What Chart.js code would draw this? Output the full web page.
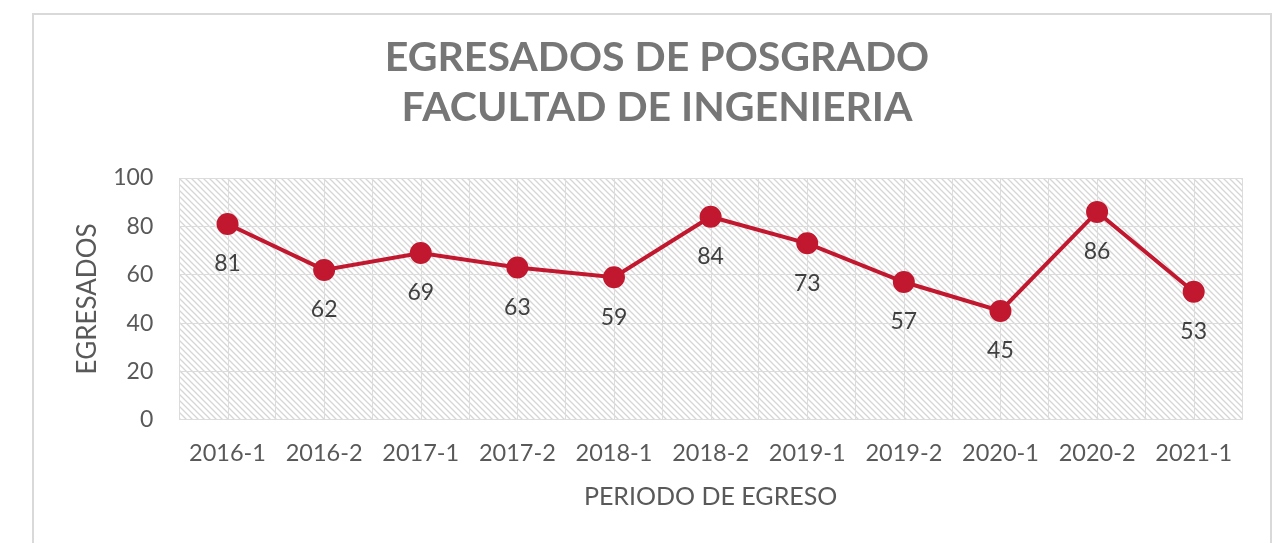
<!DOCTYPE html>
<html>
<head>
<meta charset="utf-8">
<script src="https://cdn.jsdelivr.net/npm/chart.js@4"></script>
<style>
    body { margin: 0; background: #fff; overflow: hidden; }
    .marco {
        position: absolute; left: 32px; top: 13px;
        width: 1236px; height: 560px;
        border: 2px solid #d9d9d9;
    }
</style>
</head>
<body>
<div class="marco">
    <canvas id="grafico" width="1236" height="560"></canvas>
</div>
<script>
const periodos = ['2016-1', '2016-2', '2017-1', '2017-2', '2018-1', '2018-2', '2019-1', '2019-2', '2020-1', '2020-2', '2021-1'];
const egresados = [81, 62, 69, 63, 59, 84, 73, 57, 45, 86, 53];
const titulo = ['EGRESADOS DE POSGRADO', 'FACULTAD DE INGENIERIA'];
const ticksY = [0, 20, 40, 60, 80, 100];

const rojo = '#c1182f';
const gris = '#595959';
const rejilla = '#dcdcdc';

// rayado diagonal del fondo
function rayado() {
    const c = document.createElement('canvas');
    c.width = 6; c.height = 6;
    const g = c.getContext('2d');
    g.strokeStyle = '#d6d6d6';
    g.lineWidth = 1.3;
    g.beginPath();
    g.moveTo(-1, -1); g.lineTo(7, 7);
    g.moveTo(-1, 5); g.lineTo(1, 7);
    g.moveTo(5, -1); g.lineTo(7, 1);
    g.stroke();
    return g.createPattern(c, 'repeat');
}

const fondo = {
    id: 'fondo',
    beforeDraw(chart) {
        const a = chart.chartArea;
        const ctx = chart.ctx;
        ctx.save();
        ctx.fillStyle = rayado();
        ctx.fillRect(a.left, a.top, a.right - a.left, a.bottom - a.top);
        ctx.restore();
    },
    // lineas verticales tambien en el centro de cada periodo
    beforeDatasetsDraw(chart) {
        const a = chart.chartArea;
        const x = chart.scales.x;
        const ctx = chart.ctx;
        ctx.save();
        ctx.strokeStyle = rejilla;
        ctx.lineWidth = 1;
        periodos.forEach((p, i) => {
            const px = Math.round(x.getPixelForValue(i)) + 0.5;
            ctx.beginPath();
            ctx.moveTo(px, a.top);
            ctx.lineTo(px, a.bottom);
            ctx.stroke();
        });
        ctx.restore();
    }
};

// etiquetas de valor debajo de cada punto
const etiquetas = {
    id: 'etiquetas',
    afterDatasetsDraw(chart) {
        const ctx = chart.ctx;
        const meta = chart.getDatasetMeta(0);
        ctx.save();
        ctx.font = '23px Lato';
        ctx.fillStyle = '#404040';
        ctx.textAlign = 'center';
        ctx.textBaseline = 'middle';
        meta.data.forEach((p, i) => {
            ctx.fillText(egresados[i], p.x, p.y + 40);
        });
        ctx.restore();
    }
};

new Chart(document.getElementById('grafico'), {
    type: 'line',
    data: {
        labels: periodos,
        datasets: [
            {
                label: 'Egresados',
                data: egresados,
                borderColor: rojo,
                backgroundColor: rojo,
                borderWidth: 4,
                pointRadius: 9,
                pointHoverRadius: 9,
                tension: 0,
            }
        ]
    },
    options: {
        responsive: false,
        animation: false,
        layout: { padding: { left: 38, right: 28, top: 18, bottom: 63 } },
        plugins: {
            legend: { display: false },
            tooltip: { enabled: false },
            title: {
                display: true,
                text: titulo,
                color: '#767676',
                font: { family: 'Lato', size: 41, weight: 'bold', lineHeight: 1.22 },
                padding: { top: 0, bottom: 45 }
            }
        },
        scales: {
            x: {
                offset: true,
                grid: { offset: true, color: rejilla, drawTicks: false },
                border: { color: rejilla },
                ticks: { color: gris, font: { family: 'Lato', size: 23.5 }, padding: 20, maxRotation: 0 },
                title: {
                    display: true, text: 'PERIODO DE EGRESO', color: gris,
                    font: { family: 'Lato', size: 25 }, padding: { top: -6, bottom: 0 }
                }
            },
            y: {
                min: 0,
                max: 100,
                afterBuildTicks(axis) { axis.ticks = ticksY.map(v => ({ value: v })); },
                grid: { color: rejilla, drawTicks: false },
                border: { color: rejilla },
                ticks: { color: gris, font: { family: 'Lato', size: 23 }, padding: 26 },
                title: {
                    display: true, text: 'EGRESADOS', color: gris,
                    font: { family: 'Lato', size: 26 }, padding: { top: 0, bottom: -16 }
                }
            }
        }
    },
    plugins: [fondo, etiquetas]
});
</script>
</body>
</html>
